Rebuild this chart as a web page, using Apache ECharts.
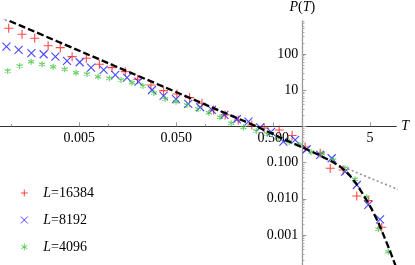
<!DOCTYPE html>
<html><head><meta charset="utf-8">
<script src="https://cdn.jsdelivr.net/npm/echarts@6/dist/echarts.min.js"></script>
<style>html,body{margin:0;padding:0;background:#fff}#c{width:415px;height:265px}</style>
</head><body><div id="c"></div>
<script>
// ---- data (T, P(T)) ----
const seriesNames = ['L=16384', 'L=8192', 'L=4096'];

const redT = [0.000933, 0.00128, 0.00173, 0.00238, 0.00318, 0.00421, 0.00590, 0.00804, 0.01086, 0.01489, 0.01995, 0.0274, 0.0370, 0.0508, 0.0686, 0.0920, 0.1213, 0.160, 0.218, 0.301, 0.404, 0.577, 0.785, 1.07, 1.53, 1.94, 2.64, 3.65, 4.80, 6.60];
const redP = [513, 350, 272, 169, 149, 84.2, 76.1, 51.9, 41.9, 32.4, 20.0, 13.9, 9.69, 7.85, 6.21, 4.35, 2.84, 2.07, 1.50, 1.09, 0.903, 0.796, 0.561, 0.270, 0.181, 0.0696, 0.0625, 0.01194, 0.00887, 0.00163];

const blueT = [0.000884, 0.00118, 0.00160, 0.00214, 0.00283, 0.00373, 0.00504, 0.00661, 0.00891, 0.01175, 0.01552, 0.0204, 0.0281, 0.0370, 0.0497, 0.0665, 0.0883, 0.1167, 0.157, 0.211, 0.278, 0.367, 0.476, 0.638, 0.843, 1.11, 1.53, 2.01, 2.76, 3.65, 4.80, 6.34];
const blueP = [159, 129, 105, 98.1, 84.2, 64.1, 59.0, 41.9, 36.1, 26.3, 22.1, 17.2, 10.1, 6.92, 5.61, 4.16, 3.37, 2.84, 2.07, 1.57, 1.35, 0.933, 0.700, 0.378, 0.421, 0.233, 0.162, 0.1315, 0.0561, 0.0240, 0.00674, 0.00271];

const greenT = [0.000912, 0.00121, 0.00159, 0.00206, 0.00268, 0.00353, 0.00462, 0.00600, 0.00780, 0.01019, 0.01346, 0.01746, 0.0226, 0.0294, 0.0383, 0.0497, 0.0644, 0.0838, 0.1087, 0.1413, 0.1845, 0.247, 0.334, 0.434, 0.564, 0.731, 0.948, 1.23, 1.60, 2.09, 2.76, 3.50, 4.62, 6.09, 7.72];
const greenP = [33.9, 46.6, 61.3, 51.9, 44.6, 37.8, 30.4, 28.0, 23.6, 21.3, 19.1, 16.1, 13.1, 8.37, 5.71, 4.81, 3.90, 3.03, 2.39, 1.78, 1.22, 0.933, 0.746, 0.617, 0.478, 0.378, 0.306, 0.196, 0.178, 0.118, 0.0696, 0.0346, 0.0110, 0.00144, 0.000346];

// theoretical curve (black dashed) and pure power law (gray dotted)
const dashT = [0.000767, 0.01, 0.1, 0.340, 0.590, 1.0, 1.5, 2.0, 2.5, 3.0, 3.5, 4.0, 5.0, 6.0, 7.0, 8.0, 9.0, 9.5];
const dashP = [1045, 55.3, 3.98, 0.981, 0.493, 0.262, 0.160, 0.108, 0.0745, 0.0480, 0.0290, 0.01686, 0.00625, 0.00238, 0.000897, 0.000371, 0.000161, 0.000107];
const dotT = [2.4, 10.2];
const dotP = [0.0830, 0.0172];

// ticks
const xLabelVals = [0.005, 0.05, 0.5, 5];
const xLabels = ['0.005', '0.050', '0.500', '5'];
const xMinorVals = [0.001, 0.01, 0.1, 1];
const yLabelVals = [0.001, 0.01, 0.1, 10, 100];
const yLabels = ['0.001', '0.010', '0.100', '10', '100'];
const yMajorVals = [0.001, 0.01, 0.1, 1, 10, 100];

// ---- chart ----
const L = Math.log10;
const X_MIN = -3.12, X_MAX = 0.97, Y_MIN = -3.83, Y_MAX = 2.91;
const FONT = "'Liberation Serif','Times New Roman',serif";
const yMinorLog = [];
for (let n = -4; n <= 2; n++) for (let k = 2; k <= 9; k++) {
  const v = L(k) + n; if (v > Y_MIN && v < Y_MAX) yMinorLog.push(v);
}
const pts = (T, P) => T.map((t, i) => [L(t), L(P[i])]);
const SYM_PLUS = 'path://M0,5L10,5M5,0L5,10';
const SYM_X = 'path://M0,0L10,10M10,0L0,10';
const SYM_STAR = 'path://M5,0L5,10M0.67,2.5L9.33,7.5M0.67,7.5L9.33,2.5';
const colors = ['#ff1a1a', '#1a1aff', '#3cc43c'];

const chart = echarts.init(document.getElementById('c'), null, {renderer: 'canvas'});
chart.setOption({
  animation: false,
  backgroundColor: '#fff',
  grid: {left: 0, right: 18.7, top: 21, bottom: 0, containLabel: false, outerBoundsMode: 'none'},
  xAxis: [
    {type: 'value', min: X_MIN, max: X_MAX, position: 'bottom',
      axisLine: {onZero: true, onZeroAxisIndex: 0, lineStyle: {color: '#333', width: 1}},
      axisTick: {show: true, inside: true, length: 4, customValues: xLabelVals.map(L), lineStyle: {color: '#999'}},
      axisLabel: {show: false},
      splitLine: {show: false},
      name: 'T', nameLocation: 'end', nameGap: 5,
      nameTextStyle: {fontFamily: FONT, fontSize: 14, fontStyle: 'italic', color: '#000', verticalAlign: 'middle'}},
    {type: 'value', min: X_MIN, max: X_MAX, position: 'bottom',
      axisLine: {show: false, onZero: true, onZeroAxisIndex: 0},
      axisTick: {show: true, inside: true, length: 2.5, customValues: xMinorVals.map(L), lineStyle: {color: '#999'}},
      axisLabel: {show: false}, splitLine: {show: false}}
  ],
  yAxis: [
    {type: 'value', min: Y_MIN, max: Y_MAX, position: 'left',
      axisLine: {onZero: true, onZeroAxisIndex: 0, lineStyle: {color: '#999', width: 1.3}},
      axisTick: {show: true, inside: true, length: 4, customValues: yMajorVals.map(L), lineStyle: {color: '#999'}},
      axisLabel: {show: false},
      splitLine: {show: false},
      name: '{i|P}({i|T})', nameLocation: 'end', nameGap: 7,
      nameTextStyle: {fontFamily: FONT, fontSize: 14, color: '#000', rich: {i: {fontFamily: FONT, fontSize: 14, fontStyle: 'italic', color: '#000'}}}},
    {type: 'value', min: Y_MIN, max: Y_MAX, position: 'left',
      axisLine: {show: false, onZero: true, onZeroAxisIndex: 0},
      axisTick: {show: true, inside: true, length: 2.2, customValues: yMinorLog, lineStyle: {color: '#aaa'}},
      axisLabel: {show: false}, splitLine: {show: false}}
  ],
  legend: {
    orient: 'vertical', left: 15.3, top: 181, itemWidth: 28, itemHeight: 7, itemGap: 13,
    selectedMode: false,
    itemStyle: {borderWidth: 1},
    textStyle: {fontFamily: FONT, fontSize: 14, color: '#000', rich: {i: {fontFamily: FONT, fontSize: 14, fontStyle: 'italic', color: '#000'}}},
    formatter: n => '{i|L}=' + n.split('=')[1],
    data: seriesNames
  },
  series: [
    {name: seriesNames[0], type: 'scatter', data: pts(redT, redP), symbol: SYM_PLUS, symbolSize: 9,
      itemStyle: {color: colors[0], borderColor: colors[0], borderWidth: 1.1}, z: 3, silent: true},
    {name: seriesNames[1], type: 'scatter', data: pts(blueT, blueP), symbol: SYM_X, symbolSize: 8,
      itemStyle: {color: colors[1], borderColor: colors[1], borderWidth: 1.1}, z: 3, silent: true},
    {name: seriesNames[2], type: 'scatter', data: pts(greenT, greenP), symbol: SYM_STAR, symbolSize: 6,
      itemStyle: {color: colors[2], borderColor: colors[2], borderWidth: 1.1}, z: 3, silent: true},
    {name: 'powerlaw', type: 'line', data: pts(dotT, dotP), showSymbol: false, symbol: 'none',
      lineStyle: {color: '#999', width: 1.7, type: [2, 2.5]}, z: 4, silent: true},
    {name: 'theory', type: 'line', data: pts(dashT, dashP), showSymbol: false, symbol: 'none', smooth: 0.2,
      lineStyle: {color: '#000', width: 2.3, type: [7, 3]}, z: 5, silent: true}
  ]
});

// Tick labels placed at the axes crossing, positioned through the chart's own scales
const zeroY = chart.convertToPixel({yAxisIndex: 0}, 0);
const zeroX = chart.convertToPixel({xAxisIndex: 0}, 0);
const font = '14px ' + FONT;
const labelEls = [];
xLabelVals.forEach((v, i) => {
  labelEls.push({type: 'text', z: 1, silent: true, x: chart.convertToPixel({xAxisIndex: 0}, L(v)), y: zeroY + 12,
    style: {text: xLabels[i], font: font, fill: '#000', textAlign: 'center', verticalAlign: 'middle', textVerticalAlign: 'middle'}});
});
yLabelVals.forEach((v, i) => {
  labelEls.push({type: 'text', z: 1, silent: true, x: zeroX - 4, y: chart.convertToPixel({yAxisIndex: 0}, L(v)),
    style: {text: yLabels[i], font: font, fill: '#000', textAlign: 'right', verticalAlign: 'middle', textVerticalAlign: 'middle'}});
});
chart.setOption({graphic: labelEls});
</script></body></html>
